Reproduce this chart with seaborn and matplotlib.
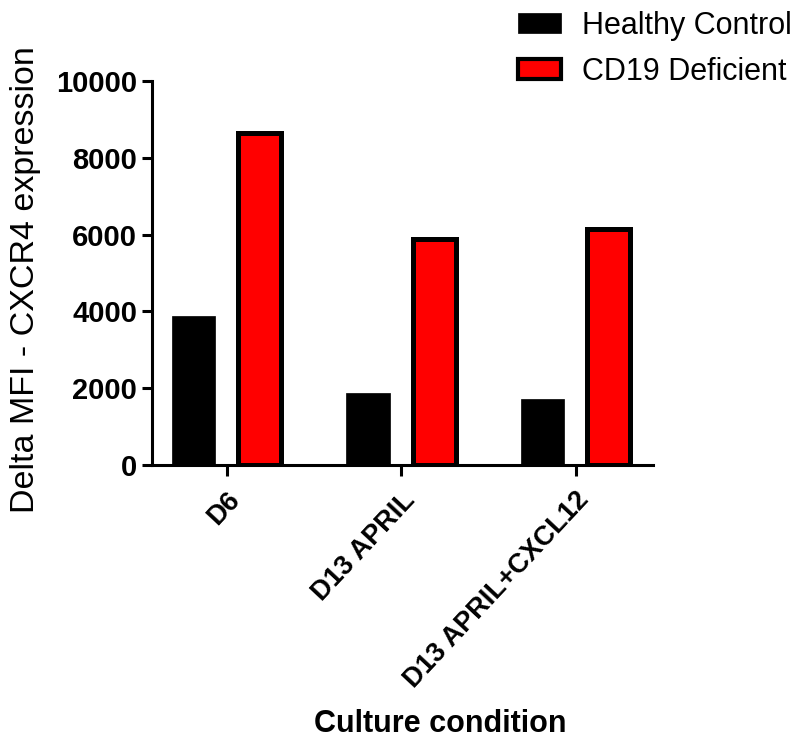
import matplotlib
matplotlib.use("Agg")
import matplotlib.pyplot as plt
from matplotlib.patches import Patch
import seaborn as sns
import pandas as pd

# Data
conditions = ["D6", "D13 APRIL", "D13 APRIL+CXCL12"]
groups = ["Healthy Control", "CD19 Deficient"]
healthy = [3880, 1870, 1710]
cd19 = [8640, 5890, 6140]
yticks = [0, 2000, 4000, 6000, 8000, 10000]

df = pd.DataFrame({
    "condition": conditions * 2,
    "group": [groups[0]] * 3 + [groups[1]] * 3,
    "value": healthy + cd19,
})

sns.set_theme(style="white")
plt.rcParams["font.family"] = ["Liberation Sans", "DejaVu Sans"]
plt.rcParams["text.color"] = "black"

fig = plt.figure(figsize=(8.02, 7.42), dpi=100)
ax = fig.add_axes([0.19, 0.3733, 0.624, 0.5175])

palette = {groups[0]: "#000000", groups[1]: "#ff0000"}
sns.barplot(data=df, x="condition", y="value", hue="group", order=conditions,
            hue_order=groups, palette=palette, width=0.76, gap=0.35,
            saturation=1, legend=False, ax=ax, errorbar=None)

# Black outline on the CD19 deficient bars
for bar in ax.patches:
    fc = bar.get_facecolor()
    bar.set_edgecolor("black")
    bar.set_linewidth(3.6 if fc[0] > 0.5 else 0.5)

ax.set_ylim(0, 10000)
ax.set_xlim(-0.426, 2.443)
ax.set_yticks(yticks)
ax.set_yticklabels([str(t) for t in yticks], fontsize=21, fontweight="bold",
                   color="black")
ax.set_xticks(range(len(conditions)))
ax.set_xticklabels(conditions, fontsize=19.5, fontweight="bold", color="black",
                   rotation=47, ha="right", rotation_mode="anchor")

for side in ["top", "right"]:
    ax.spines[side].set_visible(False)
for side in ["left", "bottom"]:
    ax.spines[side].set_linewidth(2.2)
    ax.spines[side].set_color("black")

ax.tick_params(axis="y", direction="out", length=7, width=2.2, pad=4,
               left=True, colors="black")
ax.tick_params(axis="x", direction="out", length=8, width=2.2, pad=8,
               bottom=True, colors="black")

ax.set_ylabel("Delta MFI - CXCR4 expression", fontsize=24.5, color="black")
ax.yaxis.set_label_coords(-0.222, 0.484)
ax.set_xlabel("Culture condition", fontsize=22, fontweight="bold", color="black")
ax.xaxis.set_label_coords(0.575, -0.636)

handles = [
    Patch(facecolor="black", edgecolor="black", linewidth=0.5),
    Patch(facecolor="#ff0000", edgecolor="black", linewidth=3.0),
]
fig.legend(handles, groups, loc="upper left", bbox_to_anchor=(518 / 802, 1 - 11 / 742),
           frameon=False, fontsize=22, handlelength=1.4, handleheight=0.62,
           handletextpad=0.7, labelspacing=0.52, borderpad=0, borderaxespad=0,
           labelcolor="black")

fig.savefig("out.png", dpi=100)
